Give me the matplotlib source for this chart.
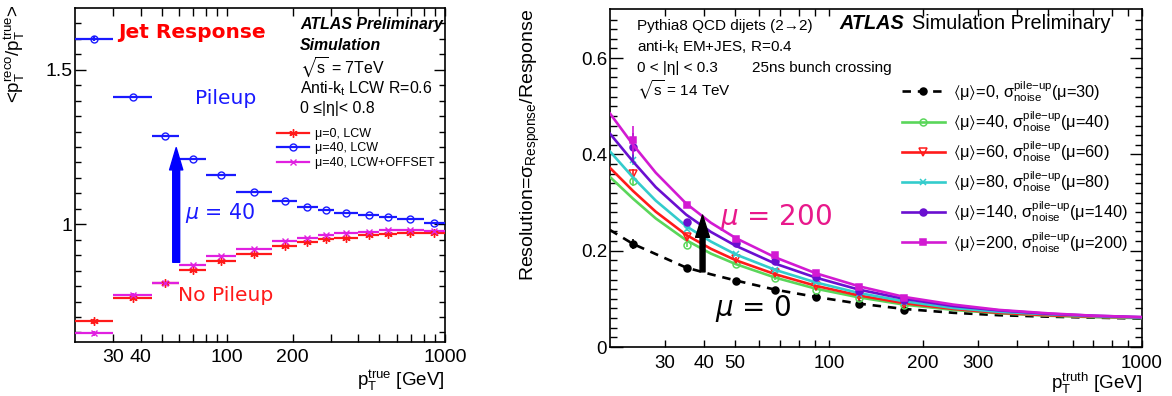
import numpy as np
import matplotlib
matplotlib.use("Agg")
import matplotlib.pyplot as plt
from matplotlib.lines import Line2D
from matplotlib.ticker import FixedLocator, FixedFormatter, NullFormatter

plt.rcParams["font.family"] = ["Liberation Sans", "DejaVu Sans"]
plt.rcParams["mathtext.fontset"] = "custom"
plt.rcParams["mathtext.rm"] = "Liberation Sans"
plt.rcParams["mathtext.it"] = "Liberation Sans:italic"
plt.rcParams["mathtext.bf"] = "Liberation Sans:bold"
plt.rcParams["mathtext.default"] = "regular"
plt.rcParams["mathtext.fallback"] = "stixsans"

# ---------------- Jet response (left panel) ----------------
bin_lo = [20, 30, 45, 60, 80, 110, 160, 210, 260, 310, 400, 500, 600, 800]
bin_hi = [30, 45, 60, 80, 110, 160, 210, 260, 310, 400, 500, 600, 800, 1000]
resp_mu0 = [0.686, 0.760, 0.811, 0.853, 0.882, 0.905, 0.929, 0.943, 0.951,
            0.957, 0.964, 0.970, 0.973, 0.973]
resp_mu40 = [1.601, 1.412, 1.285, 1.210, 1.159, 1.105, 1.075, 1.057, 1.047,
             1.038, 1.030, 1.022, 1.018, 1.005]
resp_mu40_offset = [0.647, 0.772, 0.811, 0.867, 0.898, 0.920, 0.945, 0.956,
                    0.966, 0.971, 0.975, 0.980, 0.982, 0.977]
resp_err = [0.008, 0.004, 0.003, 0.003, 0.002, 0.002, 0.002, 0.002, 0.002,
            0.002, 0.002, 0.002, 0.002, 0.002]
resp_labels = ["μ=0, LCW", "μ=40, LCW", "μ=40, LCW+OFFSET"]

# ---------------- Resolution (right panel) ----------------
pt_points = [23.7, 35.2, 50.5, 67.5, 91, 125, 174]
res_pts_mu0 = [0.214, 0.165, 0.1375, 0.118, 0.104, 0.089, 0.077]
res_pts_mu40 = [0.345, 0.212, 0.173, 0.143, 0.119, 0.102, 0.087]
res_pts_mu60 = [0.360, 0.228, 0.183, 0.153, 0.127, 0.106, 0.090]
res_pts_mu80 = [0.389, 0.245, 0.193, 0.160, 0.134, 0.111, 0.094]
res_pts_mu140 = [0.415, 0.260, 0.215, 0.178, 0.146, 0.117, 0.098]
res_pts_mu200 = [0.430, 0.295, 0.224, 0.191, 0.154, 0.125, 0.102]
res_pts_err = [0.010, 0.004, 0.003, 0.003, 0.002, 0.002, 0.002]
res_pts_err_hi = [0.030, 0.006, 0.004, 0.004, 0.003, 0.003, 0.003]

pt_curve = [20, 23.7, 28, 35, 42, 50.5, 67.5, 91, 125, 174, 250, 350, 500, 700, 1000]
fit_mu0 = [0.243, 0.214, 0.193, 0.165, 0.151, 0.138, 0.119, 0.104, 0.090,
           0.079, 0.071, 0.066, 0.063, 0.061, 0.059]
fit_mu40 = [0.353, 0.308, 0.267, 0.222, 0.194, 0.172, 0.144, 0.121, 0.103,
            0.088, 0.077, 0.070, 0.065, 0.062, 0.060]
fit_mu60 = [0.372, 0.324, 0.281, 0.233, 0.204, 0.180, 0.151, 0.127, 0.107,
            0.091, 0.079, 0.071, 0.066, 0.063, 0.061]
fit_mu80 = [0.406, 0.352, 0.304, 0.251, 0.219, 0.192, 0.160, 0.134, 0.112,
            0.095, 0.081, 0.073, 0.068, 0.064, 0.061]
fit_mu140 = [0.443, 0.385, 0.332, 0.275, 0.239, 0.210, 0.173, 0.144, 0.119,
             0.100, 0.085, 0.076, 0.069, 0.065, 0.062]
fit_mu200 = [0.485, 0.420, 0.362, 0.298, 0.258, 0.226, 0.186, 0.153, 0.126,
             0.104, 0.088, 0.077, 0.070, 0.065, 0.062]
mu_values = [0, 40, 60, 80, 140, 200]
noise_mu = [30, 40, 60, 80, 140, 200]

FIG_W, FIG_H = 1172, 396
fig = plt.figure(figsize=(FIG_W / 100, FIG_H / 100), dpi=100)


def px_axes(l, t, r, b):
    return fig.add_axes([l / FIG_W, 1 - b / FIG_H, (r - l) / FIG_W, (b - t) / FIG_H])


def root_style(ax, major_len=8, minor_len=4.5):
    for s in ax.spines.values():
        s.set_linewidth(1.2)
    ax.tick_params(which="both", direction="in", top=True, right=True,
                   width=1.0, colors="black")
    ax.tick_params(which="major", length=major_len)
    ax.tick_params(which="minor", length=minor_len)


# ============ Left panel ============
axL = px_axes(75, 8, 445, 342)
axL.set_xscale("log")
axL.set_xlim(20, 1000)
axL.set_ylim(0.619, 1.70)

lo = np.array(bin_lo, float)
hi = np.array(bin_hi, float)
xc = np.sqrt(lo * hi)
xerr = [xc - lo, hi - xc]

c_red, c_blue, c_mag = "#ff1a1a", "#1a1aff", "#e020e0"
axL.errorbar(xc, resp_mu0, xerr=xerr, yerr=resp_err, fmt="none", ecolor=c_red,
             elinewidth=1.6, capsize=0, zorder=3)
axL.plot(xc, resp_mu0, ls="none", marker=(6, 2, 0), ms=6, mew=1.0, color=c_red, zorder=4)
axL.errorbar(xc, resp_mu40_offset, xerr=xerr, yerr=resp_err, fmt="none", ecolor=c_mag,
             elinewidth=1.6, capsize=0, zorder=3)
axL.plot(xc, resp_mu40_offset, ls="none", marker="x", ms=5, mew=1.0, color=c_mag, zorder=4)
axL.errorbar(xc, resp_mu40, xerr=xerr, yerr=resp_err, fmt="none", ecolor=c_blue,
             elinewidth=1.6, capsize=0, zorder=3)
axL.plot(xc, resp_mu40, ls="none", marker="o", ms=5, mew=1.0, mfc="none", color=c_blue, zorder=4)

axL.xaxis.set_major_locator(FixedLocator([30, 40, 100, 200, 1000]))
axL.xaxis.set_major_formatter(FixedFormatter(["30", "40", "100", "200", "1000"]))
axL.xaxis.set_minor_locator(FixedLocator([50, 60, 70, 80, 90, 300, 400, 500, 600, 700, 800, 900]))
axL.xaxis.set_minor_formatter(NullFormatter())
axL.yaxis.set_major_locator(FixedLocator([1.0, 1.5]))
axL.yaxis.set_major_formatter(FixedFormatter(["1", "1.5"]))
axL.yaxis.set_minor_locator(FixedLocator(np.arange(0.65, 1.70, 0.05)))
root_style(axL)
axL.tick_params(axis="x", which="both", length=6)
axL.tick_params(axis="both", which="major", labelsize=14)
axL.tick_params(axis="x", pad=5)
axL.tick_params(axis="y", pad=2)

fig.text(15 / FIG_W, 1 - 4 / FIG_H, r"<$p_{\rm T}^{\rm reco}$/$p_{\rm T}^{\rm true}$>",
         rotation=90, ha="center", va="top", fontsize=13.5)
axL.text(1.0, -0.078, r"$p_{\rm T}^{\rm true}$ [GeV]", transform=axL.transAxes,
         ha="right", va="top", fontsize=13.5)

axL.text(0.116, 0.928, "Jet Response", transform=axL.transAxes, color="#ff0000",
         fontsize=14.5, fontweight="bold", family="DejaVu Sans", ha="left", va="center")
axL.text(0.324, 0.7305, "Pileup", transform=axL.transAxes, color="#1a1aff",
         fontsize=14.6, family="DejaVu Sans", ha="left", va="center")
axL.text(0.278, 0.138, "No Pileup", transform=axL.transAxes, color="#ff1a1a",
         fontsize=14.6, family="DejaVu Sans", ha="left", va="center")
axL.text(0.297, 0.386, r"$\mathit{\mu}$ = 40", transform=axL.transAxes, color="#1a1aff",
         fontsize=14.8, family="DejaVu Sans", math_fontfamily="dejavusans",
         ha="left", va="center")
axL.annotate("", xy=(58.3, 1.248), xytext=(58.3, 0.877),
             arrowprops=dict(arrowstyle="simple,head_length=1.6,head_width=0.95,tail_width=0.5",
                             mutation_scale=10, color="#0000ff", shrinkA=0, shrinkB=0))

infoL = [("ATLAS Preliminary", 0.952, "bold", "italic"),
         ("Simulation", 0.889, "bold", "italic"),
         (r"$\sqrt{s}$ = 7TeV", 0.820, "normal", "normal"),
         (r"Anti-$k_{t}$ LCW R=0.6", 0.760, "normal", "normal"),
         ("0 ≤|η|< 0.8", 0.698, "normal", "normal")]
for txt, yy, fw, fs in infoL:
    axL.text(0.608, yy, txt, transform=axL.transAxes, fontsize=11.4, fontweight=fw,
             fontstyle=fs, ha="left", va="center")

hL = [Line2D([], [], color=c_red, lw=1.6, marker=(6, 2, 0), ms=6, mew=1.0),
      Line2D([], [], color=c_blue, lw=1.6, marker="o", ms=5, mfc="none", mew=1.0),
      Line2D([], [], color=c_mag, lw=1.6, marker="x", ms=5, mew=1.0)]
axL.legend(hL, resp_labels, loc="upper left", bbox_to_anchor=(0.545, 0.641),
           frameon=False, fontsize=9, handlelength=2.6, handletextpad=0.5,
           labelspacing=0.2, borderaxespad=0, borderpad=0)

# ============ Right panel ============
axR = px_axes(610, 9, 1142, 347)
axR.set_xscale("log")
axR.set_xlim(20, 1000)
axR.set_ylim(0, 0.702)

series = [
    (fit_mu0, res_pts_mu0, "black", "--", "o", "black", 5),
    (fit_mu40, res_pts_mu40, "#5ad65a", "-", "o", "none", 5),
    (fit_mu60, res_pts_mu60, "#ff1a1a", "-", "v", "none", 6),
    (fit_mu80, res_pts_mu80, "#33cccc", "-", "x", "#33cccc", 5),
    (fit_mu140, res_pts_mu140, "#6a0fd0", "-", "o", "#6a0fd0", 5),
    (fit_mu200, res_pts_mu200, "#d21ad2", "-", "s", "#d21ad2", 5),
]
handlesR = []
for i, (fit, pts, col, ls, mk, mfc, ms) in enumerate(series):
    z = 3 + i
    dash = dict(dashes=(3.2, 2.6)) if ls == "--" else {}
    axR.plot(pt_curve, fit, color=col, lw=1.9, ls=ls, zorder=z, **dash)
    err = res_pts_err_hi if mu_values[i] >= 140 else res_pts_err
    axR.errorbar(pt_points, pts, yerr=err, fmt="none", ecolor=col, elinewidth=1.2,
                 capsize=0, zorder=z + 0.5)
    axR.plot(pt_points, pts, ls="none", marker=mk, ms=ms, mfc=mfc, mec=col, mew=1.1,
             color=col, zorder=z + 0.5)
    handlesR.append(Line2D([], [], color=col, lw=1.9, ls=ls, marker=mk, ms=ms, mfc=mfc,
                           mec=col, mew=1.1, **dash))

labelsR = [r"$\langle$μ$\rangle$=%d, $\sigma^{\rm pile{-}up}_{\rm noise}$(μ=%d)" % (m, n)
           for m, n in zip(mu_values, noise_mu)]
axR.legend(handlesR, labelsR, loc="upper left", bbox_to_anchor=(0.549, 0.794),
           frameon=False, fontsize=11.8, handlelength=2.6, handletextpad=0.5,
           labelspacing=0.32, borderaxespad=0, borderpad=0)

axR.xaxis.set_major_locator(FixedLocator([30, 40, 50, 100, 200, 300, 1000]))
axR.xaxis.set_major_formatter(FixedFormatter(["30", "40", "50", "100", "200", "300", "1000"]))
axR.xaxis.set_minor_locator(FixedLocator([60, 70, 80, 90, 400, 500, 600, 700, 800, 900]))
axR.xaxis.set_minor_formatter(NullFormatter())
axR.yaxis.set_major_locator(FixedLocator([0, 0.2, 0.4, 0.6]))
axR.yaxis.set_major_formatter(FixedFormatter(["0", "0.2", "0.4", "0.6"]))
axR.yaxis.set_minor_locator(FixedLocator(np.arange(0.02, 0.70, 0.02)))
root_style(axR, major_len=9, minor_len=5)
axR.tick_params(axis="x", which="both", length=5)
axR.tick_params(axis="both", which="major", labelsize=13.5)
axR.tick_params(axis="x", pad=6)
axR.tick_params(axis="y", pad=2)

fig.text(530 / FIG_W, 1 - 9 / FIG_H, r"Resolution=$\sigma_{\rm Response}$/Response",
         rotation=90, ha="center", va="top", fontsize=14)
axR.text(1.0, -0.072, r"$p_{\rm T}^{\rm truth}$ [GeV]", transform=axR.transAxes,
         ha="right", va="top", fontsize=13.5)

infoR = [("Pythia8 QCD dijets (2→2)", 0.950), (r"anti-$k_{t}$ EM+JES, R=0.4", 0.888),
         ("0 < |η| < 0.3", 0.825), (r"$\sqrt{s}$ = 14 TeV", 0.760)]
for txt, yy in infoR:
    axR.text(0.0508, yy, txt, transform=axR.transAxes, fontsize=11, ha="left", va="center")
axR.text(0.267, 0.825, "25ns bunch crossing", transform=axR.transAxes, fontsize=11,
         ha="left", va="center")
axR.text(0.432, 0.956, "ATLAS", transform=axR.transAxes, fontsize=14.3,
         fontweight="bold", fontstyle="italic", ha="left", va="center")
axR.text(0.568, 0.956, "Simulation Preliminary", transform=axR.transAxes, fontsize=14.3,
         ha="left", va="center")

axR.text(0.207, 0.382, r"$\mathit{\mu}$ = 200", transform=axR.transAxes, color="#e8198b",
         fontsize=20, family="DejaVu Sans", math_fontfamily="dejavusans",
         ha="left", va="center")
axR.text(0.197, 0.115, r"$\mathit{\mu}$ = 0", transform=axR.transAxes, color="black",
         fontsize=20, family="DejaVu Sans", math_fontfamily="dejavusans",
         ha="left", va="center", zorder=10)
axR.annotate("", xy=(39.5, 0.274), xytext=(39.5, 0.156),
             arrowprops=dict(arrowstyle="simple,head_length=1.6,head_width=1.0,tail_width=0.36",
                             mutation_scale=10, color="black", shrinkA=0, shrinkB=0),
             zorder=12)

fig.savefig("out.png", dpi=100)
